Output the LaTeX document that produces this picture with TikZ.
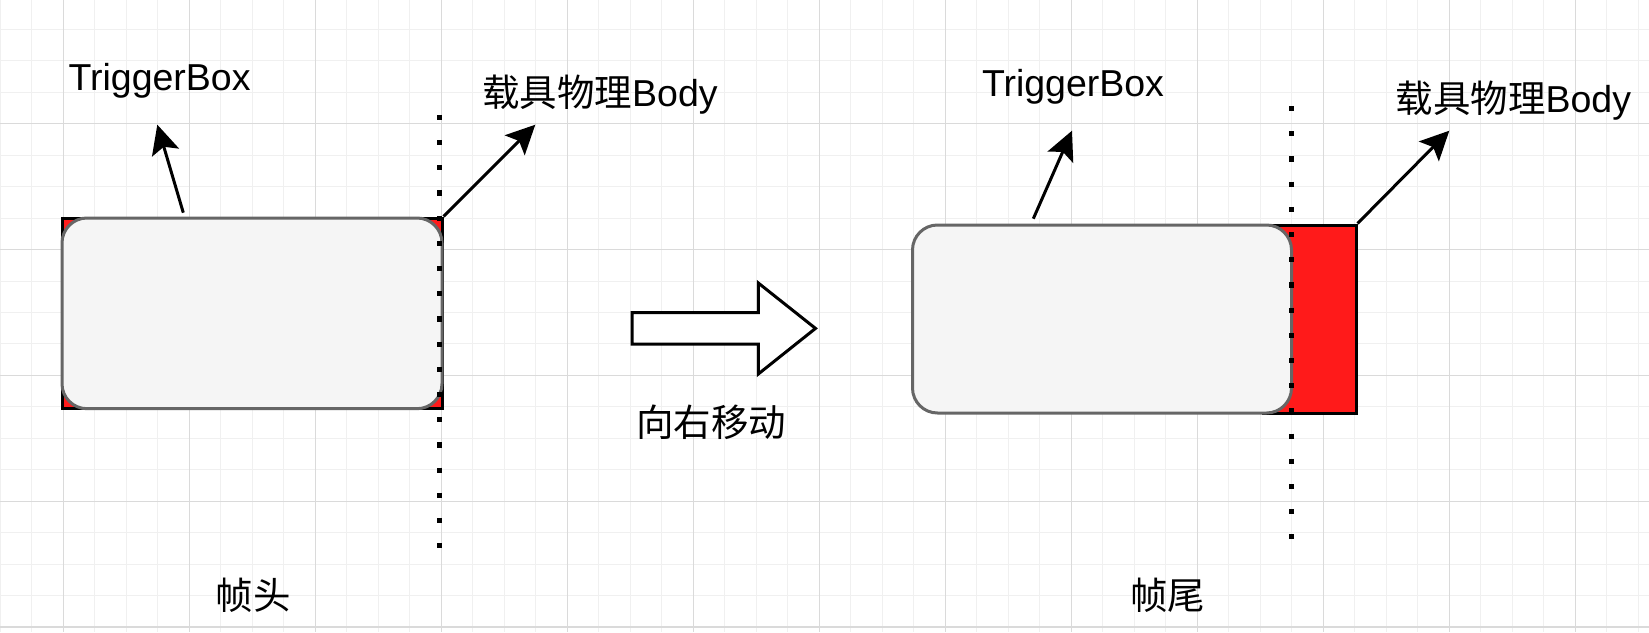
\documentclass[tikz,border=0pt]{standalone}
\usepackage{fontspec}
\setmainfont{Liberation Sans}
\newfontfamily\cjk{Noto Sans CJK SC}
\usetikzlibrary{arrows.meta}
\definecolor{redfill}{HTML}{FF1A1A}
\definecolor{boxfill}{HTML}{F5F5F5}
\definecolor{boxline}{HTML}{666666}
\definecolor{gridmajor}{HTML}{DADADA}
\definecolor{gridminor}{HTML}{F0F0F0}
\tikzset{
 minorgrid/.style={gridminor, line width=1pt},
 majorgrid/.style={gridmajor, line width=1.3pt},
 redbox/.style={draw=black, fill=redfill, line width=3pt, inner sep=0pt},
 trigbox/.style={draw=boxline, fill=boxfill, line width=3pt, rounded corners=25pt, inner sep=0pt},
 dotline/.style={line width=5.3pt, dash pattern=on 5.1pt off 20.1pt},
 pointer/.style={line width=3pt, -{Stealth[length=29pt, width=28pt, inset=6pt]}},
 lbl/.style={inner sep=0pt, anchor=base west, font=\fontsize{37.5}{40}\selectfont},
 movearrow/.style={draw=black, fill=white, line width=3pt, miter limit=10}
}
\begin{document}
\begin{tikzpicture}[x=1pt,y=-1pt]
\useasboundingbox (0,0) rectangle (1649,632);
\fill[white] (0,0) rectangle (1649,632);
% grid
\begin{scope}
\clip (0,0) rectangle (1649,632);
\foreach \j in {0,...,52} {
  \pgfmathsetmacro\xx{0.3+31.5*\j}
  \draw[minorgrid] (\xx,0) -- (\xx,632);
}
\foreach \j in {1,...,20} {
  \pgfmathsetmacro\yy{-2+31.45*\j}
  \draw[minorgrid] (0,\yy) -- (1649,\yy);
}
\foreach \k in {0,...,12} {
  \pgfmathsetmacro\xx{63.3+126*\k}
  \draw[majorgrid] (\xx,0) -- (\xx,632);
}
\foreach \k in {0,...,4} {
  \pgfmathsetmacro\yy{123.8+125.8*\k}
  \draw[majorgrid] (0,\yy) -- (1649,\yy);
}
\end{scope}

% left frame (frame head)
\node[redbox, minimum width=380pt, minimum height=190.7pt] (redL) at (252,313.35) {};
\node[trigbox, minimum width=380pt, minimum height=190.7pt] (trigL) at (252,313.35) {};
\coordinate (dotLtop) at (439.7,114.8);
\coordinate (dotLbot) at (439.7,548.6);
\draw[dotline] (dotLtop) -- (dotLbot);

% right frame (frame tail)
\node[redbox, minimum width=93pt, minimum height=188pt] (redR) at (1309.5,319) {};
\node[trigbox, minimum width=379pt, minimum height=188pt] (trigR) at (1102,319) {};
\coordinate (dotRtop) at (1291.7,106);
\coordinate (dotRbot) at (1291.7,539.3);
\draw[dotline] (dotRtop) -- (dotRbot);

% labels
\node[lbl] (tbL) at (68.4,90.7) {TriggerBox};
\node[lbl] (bodyL) at (482,106.7) {{\cjk 载具物理}Body};
\node[lbl] (tbR) at (981.8,96.7) {TriggerBox};
\node[lbl] (bodyR) at (1395.4,112.7) {{\cjk 载具物理}Body};
\node[lbl] (move) at (636,436) {\cjk 向右移动};
\node[lbl] (head) at (215.5,609.4) {\cjk 帧头};
\node[lbl] (tail) at (1130.2,609.4) {\cjk 帧尾};

% pointers
\coordinate (tbLfrom) at (183.3,212.7);
\coordinate (tbLtip) at (157.3,124.7);
\draw[pointer] (tbLfrom) -- (tbLtip);
\coordinate (bodyLtip) at (535.3,124.7);
\draw[pointer] (redL.north east) -- (bodyLtip);
\coordinate (tbRfrom) at (1033.3,218.7);
\coordinate (tbRtip) at (1072,130.7);
\draw[pointer] (tbRfrom) -- (tbRtip);
\coordinate (bodyRtip) at (1449.3,130.7);
\draw[pointer] (redR.north east) -- (bodyRtip);

% move-right arrow
\draw[movearrow] (632,312.7) -- (758.3,312.7) -- (758.3,283) -- (815.5,328.4)
  -- (758.3,374) -- (758.3,344) -- (632,344) -- cycle;
\end{tikzpicture}
\end{document}
